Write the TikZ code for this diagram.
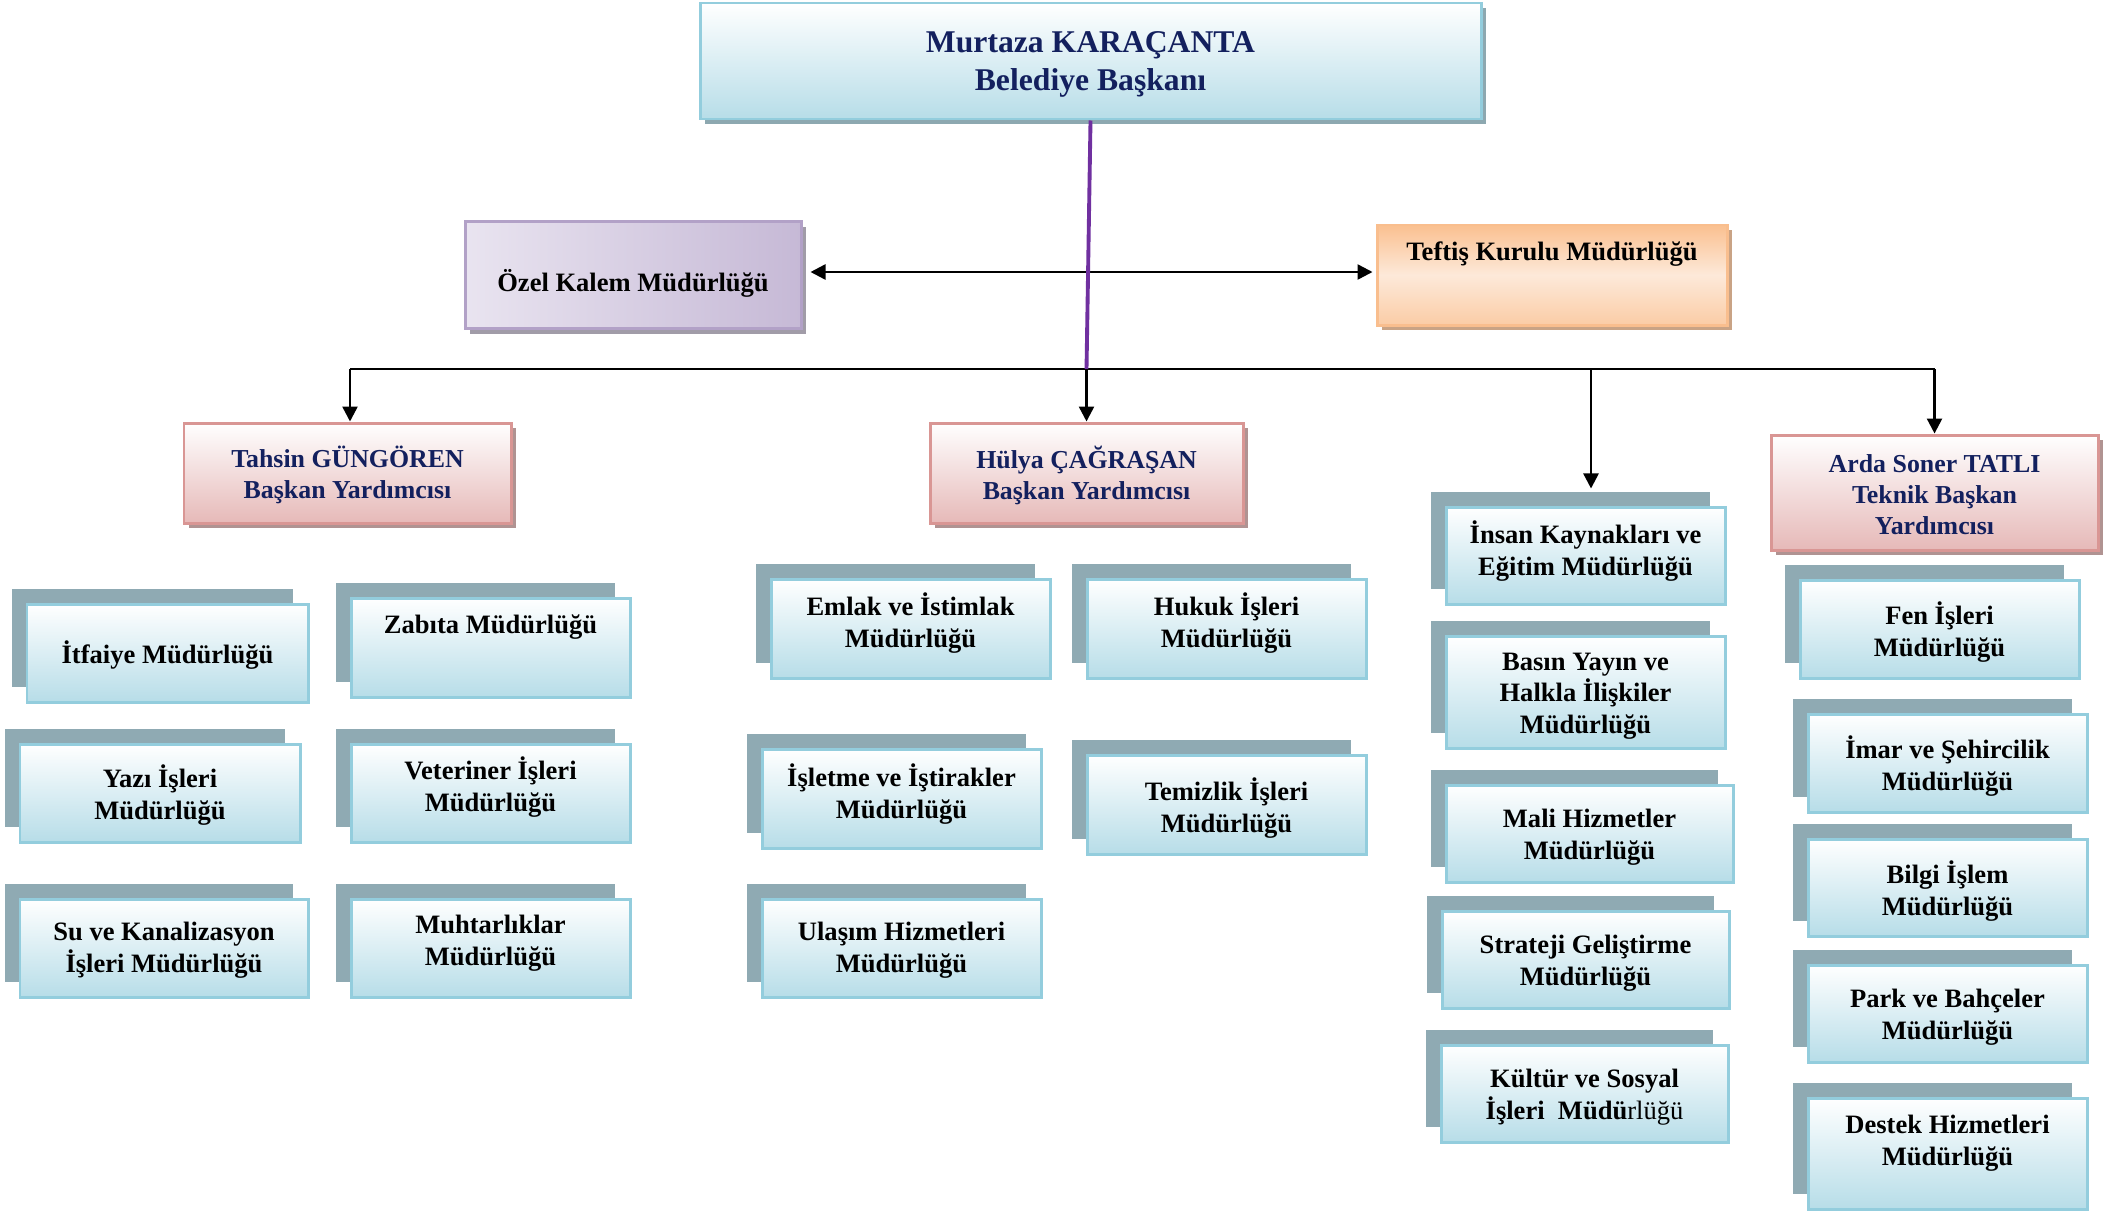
\documentclass[tikz,border=0pt]{standalone}
\usepackage{fontspec}
\setmainfont{Liberation Serif}
\usetikzlibrary{arrows.meta,shadows}
\definecolor{navy}{HTML}{13205E}
\definecolor{deptfill}{HTML}{B7DDE8}
\definecolor{deptline}{HTML}{93CDDD}
\definecolor{deptshadow}{HTML}{8FAAB3}
\definecolor{topshadow}{HTML}{8DA8B0}
\definecolor{purp}{HTML}{7030A0}
\definecolor{redline}{HTML}{D99694}
\definecolor{redfill}{HTML}{E6B9B8}
\definecolor{redshadow}{HTML}{B09392}
\definecolor{lavA}{HTML}{E9E4F0}
\definecolor{lavB}{HTML}{C6B9D6}
\definecolor{lavline}{HTML}{B2A1C7}
\definecolor{lavshadow}{HTML}{A19CA8}
\definecolor{peachA}{HTML}{FAC090}
\definecolor{peachB}{HTML}{FDE9D9}
\definecolor{peachline}{HTML}{F9BE8E}
\definecolor{peachshadow}{HTML}{C9A385}
\tikzset{
  deptbox/.style={draw=deptline, line width=0.85pt, top color=white, bottom color=deptfill,
    inner sep=0pt, general shadow={fill=deptshadow, shadow xshift=-0.15cm, shadow yshift=0.15cm}},
  depttext/.style={align=center, inner sep=0pt, yshift=-0.02cm, font=\fontsize{7.55pt}{9pt}\selectfont\bfseries},
  headbox/.style={draw=redline, line width=0.85pt, top color=white, bottom color=redfill,
    inner sep=0pt, align=center, text=navy, font=\fontsize{7.35pt}{8.8pt}\selectfont\bfseries,
    general shadow={fill=redshadow, shadow xshift=0.05cm, shadow yshift=-0.05cm}},
  headtext/.style={align=center, inner sep=0pt, text=navy, font=\fontsize{7.35pt}{8.8pt}\selectfont\bfseries},
  conn/.style={line width=0.7pt, black},
  arr/.style={conn, -{Triangle[length=0.15cm,width=0.15cm]}},
  dblarr/.style={conn, {Triangle[length=0.15cm,width=0.15cm]}-{Triangle[length=0.15cm,width=0.15cm]}},
}
\newcommand\deptnode[7]{%
  \node[deptbox, minimum width=#4*0.01cm, minimum height=#5*0.01cm] (#1) at (#2,#3) {};
  \node[depttext] (#1t) at (#2,#6) {#7};}
\newcommand\headnode[7]{%
  \node[headbox, minimum width=#4*0.01cm, minimum height=#5*0.01cm] (#1) at (#2,#3) {};
  \node[headtext] (#1t) at (#2,#6) {#7};}
\begin{document}
\begin{tikzpicture}[x=0.01cm,y=-0.01cm]
\fill[white] (0,0) rectangle (2125,1212);
\useasboundingbox (0,0) rectangle (2125,1212);

% top box
\node[draw=deptline, line width=0.85pt, top color=white, bottom color=deptfill,
  minimum width=781*0.01cm, minimum height=116*0.01cm, inner sep=0pt,
  general shadow={fill=topshadow, shadow xshift=0.05cm, shadow yshift=-0.05cm}]
  (top) at (1090.5,61) {};
\node[align=center, inner sep=0pt, text=navy, font=\fontsize{9pt}{10.8pt}\selectfont\bfseries]
  (topt) at (1090.5,64) {Murtaza KARAÇANTA\\Belediye Başkanı};

% side boxes
\node[draw=lavline, line width=0.85pt, left color=lavA, right color=lavB,
  minimum width=336*0.01cm, minimum height=107*0.01cm, inner sep=0pt,
  general shadow={fill=lavshadow, shadow xshift=0.05cm, shadow yshift=-0.05cm}]
  (ozel) at (633,275) {};
\node[depttext] (ozelt) at (633,281) {Özel Kalem Müdürlüğü};
\node[draw=peachline, line width=0.85pt, top color=peachA, bottom color=peachA!70!peachB, middle color=peachB,
  minimum width=350*0.01cm, minimum height=100*0.01cm, inner sep=0pt,
  general shadow={fill=peachshadow, shadow xshift=0.05cm, shadow yshift=-0.05cm}]
  (teftis) at (1552,275) {};
\node[depttext] (teftist) at (1552,252) {Teftiş Kurulu Müdürlüğü};

% deputy boxes
\headnode{tahsin}{347.5}{473}{327}{100}{475}{Tahsin GÜNGÖREN\\Başkan Yardımcısı}
\headnode{hulya}{1086.5}{473}{313}{100}{475}{Hülya ÇAĞRAŞAN\\Başkan Yardımcısı}
\headnode{arda}{1934.5}{492.5}{327}{115}{494.5}{Arda Soner TATLI\\Teknik Başkan\\Yardımcısı}

% departments
\deptnode{itfaiye}{167.5}{653}{281}{98}{653}{İtfaiye Müdürlüğü}
\deptnode{yazi}{160}{793}{280}{98}{793}{Yazı İşleri\\Müdürlüğü}
\deptnode{su}{164}{948}{288}{98}{948}{Su ve Kanalizasyon\\İşleri Müdürlüğü}
\deptnode{zabita}{490.5}{647.5}{279}{99}{625}{Zabıta Müdürlüğü}
\deptnode{veteriner}{490.5}{793}{279}{98}{785}{Veteriner İşleri\\Müdürlüğü}
\deptnode{muhtar}{490.5}{948}{279}{98}{941}{Muhtarlıklar\\Müdürlüğü}
\deptnode{emlak}{910.5}{628.5}{279}{99}{621}{Emlak ve İstimlak\\Müdürlüğü}
\deptnode{isletme}{901.5}{798.5}{279}{99}{792}{İşletme ve İştirakler\\Müdürlüğü}
\deptnode{ulasim}{901.5}{948}{279}{98}{948}{Ulaşım Hizmetleri\\Müdürlüğü}
\deptnode{hukuk}{1226.5}{628.5}{279}{99}{621}{Hukuk İşleri\\Müdürlüğü}
\deptnode{temizlik}{1226.5}{804.5}{279}{99}{806}{Temizlik İşleri\\Müdürlüğü}
\deptnode{insan}{1585.5}{555.5}{279}{97}{549}{İnsan Kaynakları ve\\Eğitim Müdürlüğü}
\deptnode{basin}{1585.5}{692}{279}{112}{694}{Basın Yayın ve\\Halkla İlişkiler\\Müdürlüğü}
\deptnode{mali}{1589.5}{833.5}{287}{97}{835}{Mali Hizmetler\\Müdürlüğü}
\deptnode{strateji}{1585.5}{959.5}{287}{97}{961}{Strateji Geliştirme\\Müdürlüğü}
\deptnode{kultur}{1584.5}{1093.5}{287}{97}{1095}{Kültür ve Sosyal\\İşleri\ \ Müdü{\mdseries rlüğü}}
\deptnode{fen}{1939.5}{629}{279}{98}{630}{Fen İşleri\\Müdürlüğü}
\deptnode{imar}{1947.5}{763}{279}{98}{764}{İmar ve Şehircilik\\Müdürlüğü}
\deptnode{bilgi}{1947.5}{887.5}{279}{97}{889}{Bilgi İşlem\\Müdürlüğü}
\deptnode{park}{1947.5}{1013.5}{279}{97}{1015}{Park ve Bahçeler\\Müdürlüğü}
\deptnode{destek}{1947.5}{1153.5}{279}{111}{1141}{Destek Hizmetleri\\Müdürlüğü}

% connectors
\coordinate (jL) at (350,369);
\coordinate (jM) at (1086.5,369);
\coordinate (jI) at (1591,369);
\coordinate (jR) at (1934.5,369);
\draw[conn] (jL) -- (jR);
\draw[dblarr] ([xshift=0.08cm,yshift=0.03cm]ozel.east) -- ([xshift=-0.03cm,yshift=0.03cm]teftis.west);
\draw[purp, line width=1.1pt] (top.south) -- (jM);
\draw[arr] (jL) -- (jL |- tahsin.north);
\draw[arr] (jM) -- (hulya.north);
\draw[arr, shorten >=0.17cm] (jI) -- (jI |- insan.north);
\draw[arr] (jR) -- (arda.north);
\end{tikzpicture}
\end{document}
